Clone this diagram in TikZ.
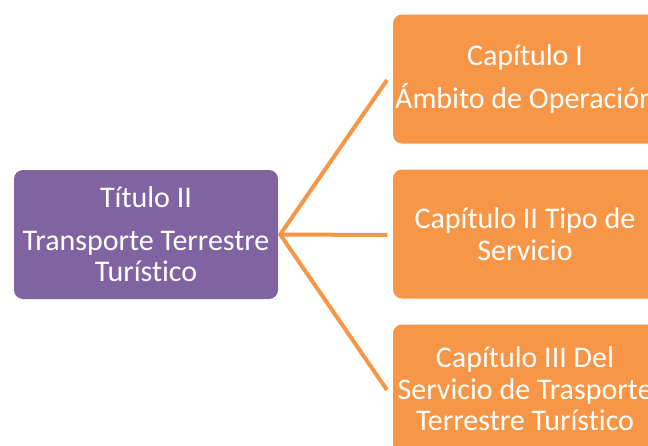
\documentclass[tikz,border=0pt]{standalone}
\usepackage{fontspec}
\setmainfont{Carlito}[Ligatures=NoCommon]
\definecolor{morado}{HTML}{8064A2}
\definecolor{naranja}{HTML}{F79646}
\begin{document}
\begin{tikzpicture}[x=1pt,y=-1pt,
		caja/.style={rounded corners=9pt, text=white, minimum width=264pt, minimum height=129pt, align=center, inner sep=0pt, font=\fontsize{30}{31.5}\selectfont},
		titulo/.style={caja, fill=morado},
		capitulo/.style={caja, fill=naranja},
		rama/.style={draw=naranja, line width=4pt}]
		\useasboundingbox (0,0) rectangle (648,445);
		\clip (0,0) rectangle (648,445);
		\node[titulo] (T2) at (146,234.5) {Título II\\[11pt]Transporte Terrestre\\Turístico};
		\node[capitulo] (C1) at (525,79) {Capítulo I\\[11pt]Ámbito de Operación};
		\node[capitulo] (C2) at (525,234) {Capítulo II Tipo de\\Servicio};
		\node[capitulo] (C3) at (525,389) {Capítulo III Del\\Servicio de Trasporte\\Terrestre Turístico};
		\coordinate (e1) at (387,80);
		\coordinate (e2) at (387,235);
		\coordinate (e3) at (387,390);
		\draw[rama] (e1) -- ([xshift=2pt]T2.east) -- (e3);
		\draw[rama] ([xshift=2pt]T2.east) -- (e2);
		\end{tikzpicture}
\end{document}
